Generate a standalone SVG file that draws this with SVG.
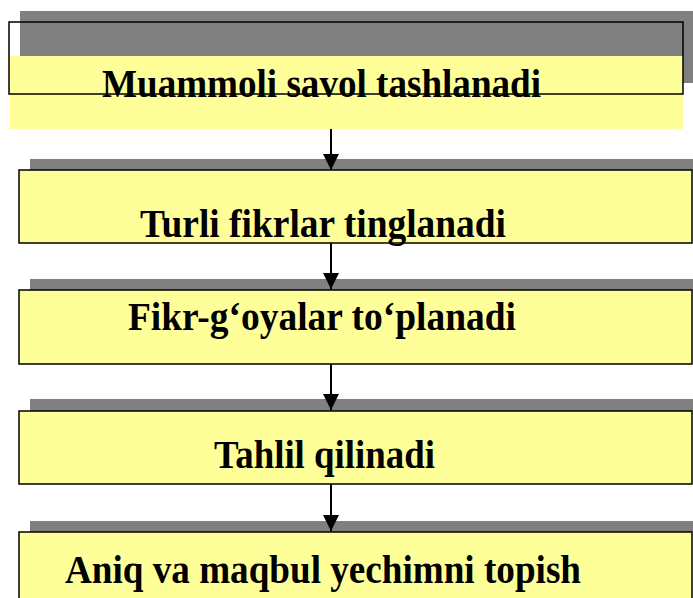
<svg xmlns="http://www.w3.org/2000/svg" width="693" height="598" viewBox="0 0 693 598">
<defs>
<style>
.sh{fill:#808080}
.bx{fill:#FFFF99;stroke:#000;stroke-width:1.5}
.tx{font-family:"Liberation Serif","Times New Roman",serif;font-weight:bold;font-size:40px;fill:#000}
.cn{stroke:#000;stroke-width:2;fill:none}
</style>
<marker id="ah" markerWidth="16" markerHeight="16" refX="16" refY="8" orient="auto" markerUnits="userSpaceOnUse" viewBox="0 0 16 16">
<path d="M0,0 L16,8 L0,16 Z" fill="#000"/>
</marker>
</defs>
<rect width="693" height="598" fill="#fff"/>
<g id="node1">
<rect class="sh" x="20" y="11" width="673" height="72"/>
<rect x="10" y="56" width="673" height="73" fill="#FFFF99"/>
<rect x="9" y="22" width="674" height="72" fill="none" stroke="#000" stroke-width="1.5"/>
<text class="tx" x="102" y="97" textLength="439" lengthAdjust="spacingAndGlyphs">Muammoli savol tashlanadi</text>
</g>
<g id="node2">
<rect class="sh" x="30" y="159" width="663" height="11"/>
<rect class="bx" x="19" y="170" width="673" height="73"/>
<text class="tx" x="140" y="237" textLength="366" lengthAdjust="spacingAndGlyphs">Turli fikrlar tinglanadi</text>
</g>
<g id="node3">
<rect class="sh" x="30" y="279" width="663" height="11"/>
<rect class="bx" x="19" y="290" width="673" height="74"/>
<text class="tx" x="128" y="330" textLength="388" lengthAdjust="spacingAndGlyphs">Fikr-g‘oyalar to‘planadi</text>
</g>
<g id="node4">
<rect class="sh" x="30" y="399" width="663" height="12"/>
<rect class="bx" x="19" y="411" width="673" height="73"/>
<text class="tx" x="214" y="468" textLength="221" lengthAdjust="spacingAndGlyphs">Tahlil qilinadi</text>
</g>
<g id="node5">
<rect class="sh" x="30" y="521" width="663" height="11"/>
<rect class="bx" x="19" y="532" width="673" height="80"/>
<text class="tx" x="65" y="583" textLength="516" lengthAdjust="spacingAndGlyphs">Aniq va maqbul yechimni topish</text>
</g>
<g id="connectors">
<line class="cn" x1="331" y1="129" x2="331" y2="170" marker-end="url(#ah)"/>
<line class="cn" x1="331" y1="243" x2="331" y2="289" marker-end="url(#ah)"/>
<line class="cn" x1="331" y1="364" x2="331" y2="410" marker-end="url(#ah)"/>
<line class="cn" x1="331" y1="484" x2="331" y2="531" marker-end="url(#ah)"/>
</g>
</svg>
